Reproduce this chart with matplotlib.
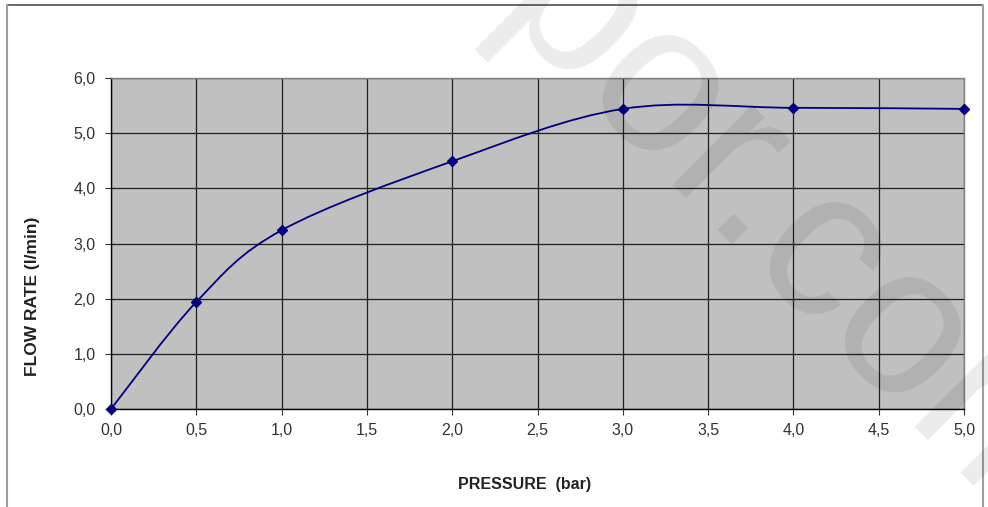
import matplotlib
matplotlib.use("Agg")
from matplotlib import pyplot as plt
from matplotlib.path import Path
from matplotlib.patches import PathPatch
from matplotlib.lines import Line2D
from matplotlib.ticker import FuncFormatter
import numpy as np

pressure = [0.0, 0.5, 1.0, 2.0, 3.0, 4.0, 5.0]
flow = [0.0, 1.94, 3.24, 4.49, 5.44, 5.46, 5.44]

x_ticks = [0.0, 0.5, 1.0, 1.5, 2.0, 2.5, 3.0, 3.5, 4.0, 4.5, 5.0]
y_ticks = [0.0, 1.0, 2.0, 3.0, 4.0, 5.0, 6.0]


def smooth_path(x, y):
	# excel-like smoothed line: cubic bezier between points
	p = np.column_stack([x, y])
	n = len(p)
	verts = [p[0]]
	codes = [Path.MOVETO]
	for i in range(n - 1):
		prev = p[i - 1] if i > 0 else p[i]
		nxt = p[i + 2] if i + 2 < n else p[i + 1]
		c1 = p[i] + (p[i + 1] - prev) / 6.0
		c2 = p[i + 1] - (nxt - p[i]) / 6.0
		verts += [c1, c2, p[i + 1]]
		codes += [Path.CURVE4] * 3
	return Path(verts, codes)


plt.rcParams['font.family'] = ['Liberation Sans', 'DejaVu Sans']
fig = plt.figure(figsize=(9.88, 5.07), dpi=100)
ax = fig.add_axes([111 / 988, 1 - 409 / 507, (964 - 111) / 988, (409 - 78) / 507])
ax.set_facecolor('#c0c0c0')

ax.add_patch(PathPatch(smooth_path(pressure, flow), fill=False, edgecolor='#000080', lw=1.3, zorder=3))
ax.plot(pressure, flow, linestyle='none', marker='D', markersize=5, color='#000080', zorder=4, clip_on=False)

ax.set_xlim(0, 5)
ax.set_ylim(0, 6)
ax.set_xticks(x_ticks)
ax.set_yticks(y_ticks)
fmt = FuncFormatter(lambda v, pos: ('%.1f' % v).replace('.', ','))
ax.xaxis.set_major_formatter(fmt)
ax.yaxis.set_major_formatter(fmt)
ax.grid(True, color='#202020', linewidth=0.9)
ax.set_axisbelow(True)
ax.tick_params(axis='both', labelsize=11.5, labelcolor='#333333', color='#333333', length=4, width=0.8)
ax.tick_params(axis='x', pad=6)
ax.tick_params(axis='y', pad=7)
ax.spines['left'].set_color('black')
ax.spines['bottom'].set_color('black')
ax.spines['top'].set_color('#808080')
ax.spines['right'].set_color('#808080')
for s in ax.spines.values():
	s.set_linewidth(1.0)

fig.text(525 / 988, 1 - 484 / 507, 'PRESSURE  (bar)', ha='center', va='center', fontsize=11.5, fontweight='bold', color='#222222')
fig.text(33 / 988, 1 - 296 / 507, 'FLOW RATE (l/min)', ha='center', va='center', rotation=90, fontsize=12.5, fontweight='bold', color='#222222')

# outer frame
fig.add_artist(Line2D([7 / 988, 983 / 988], [1 - 5 / 507, 1 - 5 / 507], color='#505050', lw=1.2))
fig.add_artist(Line2D([7 / 988, 7 / 988], [1 - 5 / 507, 0], color='#a0a0a0', lw=1.5))
fig.add_artist(Line2D([983 / 988, 983 / 988], [1 - 5 / 507, 0], color='#a0a0a0', lw=1.5))

# watermark
fig.text(490 / 988, 1 - 17 / 507, 'por.com', fontsize=153, rotation=-45, rotation_mode='anchor',
	ha='left', va='baseline', color='black', alpha=0.08, zorder=10)

fig.savefig('out.png', dpi=100)
